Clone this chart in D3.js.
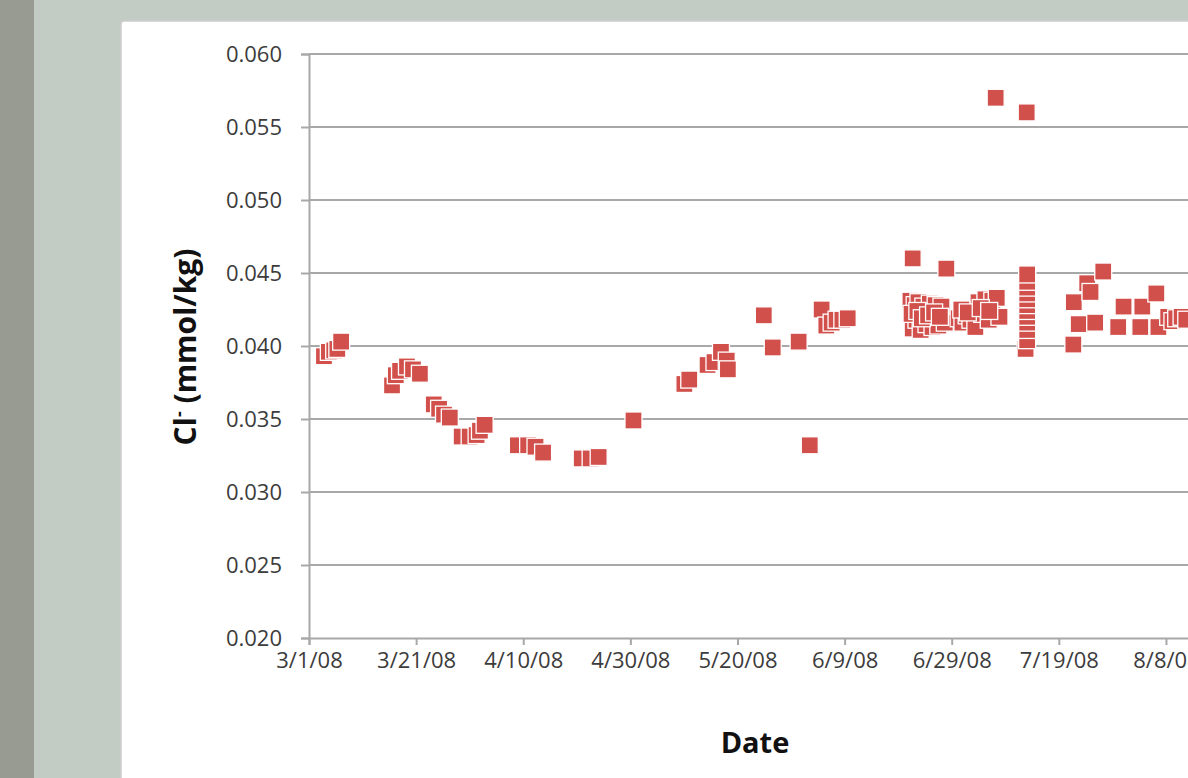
<!DOCTYPE html>
<html>
<head>
<meta charset="utf-8">
<script src="https://cdn.jsdelivr.net/npm/d3@7"></script>
<style>
  body { margin: 0; background: #c3ccc4; overflow: hidden; }
  svg { display: block; }
</style>
</head>
<body>
<svg id="chart" width="1188" height="778"></svg>
<script>
// sample dates (local time, "YYYY-MM-DD HH") and chloride values
var sampleDates = [
  "2008-03-03 19","2008-03-04 17","2008-03-05 17","2008-03-06 07","2008-03-07 00",
  "2008-03-16 12","2008-03-17 05","2008-03-18 00","2008-03-19 07","2008-03-20 10","2008-03-21 17",
  "2008-03-24 07","2008-03-25 07","2008-03-26 05","2008-03-27 07",
  "2008-03-29 12","2008-03-31 00","2008-04-01 07","2008-04-01 22","2008-04-02 19",
  "2008-04-09 00","2008-04-10 22","2008-04-12 07","2008-04-13 17",
  "2008-04-20 22","2008-04-22 14","2008-04-24 02",
  "2008-04-30 14",
  "2008-05-10 02","2008-05-11 00","2008-05-14 10","2008-05-15 17","2008-05-16 22","2008-05-18 00","2008-05-18 05",
  "2008-05-24 22","2008-05-26 14","2008-05-31 10","2008-06-02 12","2008-06-04 17",
  "2008-06-05 14","2008-06-06 14","2008-06-07 12","2008-06-08 14","2008-06-09 14",
  "2008-06-21 17",
  "2008-06-21 07","2008-06-21 17","2008-06-22 02","2008-06-22 10","2008-06-22 19","2008-06-23 05","2008-06-23 17",
  "2008-06-24 07","2008-06-24 22","2008-06-25 10","2008-06-26 00","2008-06-26 12","2008-06-27 02","2008-06-27 17",
  "2008-06-21 12","2008-06-22 14","2008-06-23 10","2008-06-24 14","2008-06-25 17","2008-06-26 19",
  "2008-06-28 00",
  "2008-06-30 07","2008-07-01 00","2008-07-01 19","2008-07-02 12","2008-07-03 10","2008-07-04 00","2008-07-04 17",
  "2008-07-05 07","2008-07-05 22","2008-07-06 14","2008-07-07 05","2008-07-07 10","2008-07-07 22",
  "2008-06-30 19","2008-07-02 00","2008-07-04 10","2008-07-06 00",
  "2008-07-13 00","2008-07-12 19",
  "2008-07-13 02","2008-07-13 02","2008-07-13 02","2008-07-13 02","2008-07-13 02","2008-07-13 02",
  "2008-07-13 02","2008-07-13 02","2008-07-13 02","2008-07-13 02","2008-07-13 02",
  "2008-07-21 17","2008-07-21 19","2008-07-22 17","2008-07-24 07","2008-07-24 22","2008-07-25 19","2008-07-27 07",
  "2008-07-30 02","2008-07-31 02","2008-08-03 05","2008-08-03 14","2008-08-06 05","2008-08-06 14",
  "2008-08-08 10","2008-08-09 05","2008-08-09 22","2008-08-10 22","2008-08-11 19"
];
var chloride = [
  0.0393,0.0396,0.0397,0.0398,0.0403,
  0.0373,0.0380,0.0383,0.0386,0.0384,0.0381,
  0.0360,0.0357,0.0353,0.0351,
  0.0338,0.0338,0.0339,0.0342,0.0346,
  0.0332,0.0332,0.0331,0.0327,
  0.0323,0.0323,0.0324,
  0.0349,
  0.0374,0.0377,0.0387,0.0389,0.0396,0.0390,0.0384,
  0.0421,0.0399,0.0403,0.0332,0.0425,
  0.0414,0.0416,0.0418,0.0418,0.0419,
  0.0460,
  0.0431,0.0412,0.0428,0.0418,0.0430,0.0411,0.0427,
  0.0415,0.0429,0.0413,0.0428,0.0414,0.0427,0.0416,
  0.0422,0.0424,0.0419,0.0421,0.0423,0.0420,
  0.0453,
  0.0419,0.0416,0.0421,0.0418,0.0413,0.0430,0.0422,
  0.0432,0.0418,0.0431,0.0570,0.0433,0.0420,
  0.0425,0.0423,0.0426,0.0424,
  0.0560,0.0398,
  0.0404,0.0411,0.0416,0.0420,0.0424,0.0428,
  0.0432,0.0436,0.0440,0.0444,0.0449,
  0.0401,0.0430,0.0415,0.0443,0.0437,0.0416,0.0451,
  0.0413,0.0427,0.0413,0.0427,0.0436,0.0413,
  0.0420,0.0417,0.0419,0.0420,0.0418
];
var xTickLabels = ["3/1/08","3/21/08","4/10/08","4/30/08","5/20/08","6/9/08","6/29/08","7/19/08","8/8/08"];
var yTicks = [0.020,0.025,0.030,0.035,0.040,0.045,0.050,0.055,0.060];

var parseSample = d3.timeParse("%Y-%m-%d %H");
var parseTick = d3.timeParse("%m/%d/%y");
var fmtTick = d3.timeFormat("%-m/%-d/%y");

var svg = d3.select('#chart');

// left dark strip of the slide
svg.append('rect').attr('x', 0).attr('y', 0).attr('width', 34).attr('height', 778).attr('fill', '#979b91');
// chart frame
svg.append('rect').attr('x', 121).attr('y', 21).attr('width', 1200).attr('height', 900).attr('rx', 3)
  .attr('fill', '#fff').attr('stroke', '#cdcdcd').attr('stroke-width', 1.5);

var x0 = 309, pxPerDay = 5.356;
var xDomainStart = parseTick("3/1/08");
var xDomainEnd = parseTick("9/17/08");
var x = d3.scaleTime().domain([xDomainStart, xDomainEnd])
  .range([x0, x0 + pxPerDay * d3.timeDay.count(xDomainStart, xDomainEnd)]);
var y = d3.scaleLinear().domain([0.020, 0.060]).range([638, 54]);

// gridlines
svg.append('g').selectAll('line').data(yTicks.slice(1)).enter().append('line')
  .attr('x1', x0).attr('x2', 1400)
  .attr('y1', function(d){ return y(d); }).attr('y2', function(d){ return y(d); })
  .attr('stroke', '#a8a8a8').attr('stroke-width', 2);

// y axis
var yAxis = svg.append('g').attr('transform', 'translate(' + x0 + ',0)')
  .call(d3.axisLeft(y).tickValues(yTicks).tickFormat(d3.format('.3f')).tickSize(8).tickPadding(19));
// x axis
var xAxis = svg.append('g').attr('transform', 'translate(0,638)')
  .call(d3.axisBottom(x).tickValues(xTickLabels.map(parseTick)).tickFormat(fmtTick).tickSize(7).tickPadding(7));

[yAxis, xAxis].forEach(function(a) {
  a.select('.domain').attr('stroke', '#a8a8a8').attr('stroke-width', 2);
  a.selectAll('.tick line').attr('stroke', '#a8a8a8').attr('stroke-width', 2);
  a.selectAll('.tick text').attr('fill', '#3c3c3c')
    .style('font-family', '"Open Sans", sans-serif').style('font-size', '22px');
});

// points
var pts = sampleDates.map(function(s, i){ return { t: parseSample(s), v: chloride[i] }; });
var msize = 17;
svg.append('g').selectAll('rect').data(pts).enter().append('rect')
  .attr('x', function(d){ return x(d.t) - msize / 2; })
  .attr('y', function(d){ return y(d.v) - msize / 2; })
  .attr('width', msize).attr('height', msize)
  .attr('fill', '#d2504c').attr('stroke', '#fff').attr('stroke-width', 1.3);

// axis titles
var yTitle = svg.append('text').attr('transform', 'translate(196,347) rotate(-90)')
  .attr('text-anchor', 'middle').attr('fill', '#111')
  .style('font-family', '"Open Sans", sans-serif').style('font-size', '30px').style('font-weight', 'bold');
yTitle.append('tspan').text('Cl');
yTitle.append('tspan').attr('dy', -11).style('font-size', '18px').text('-');
yTitle.append('tspan').attr('dy', 11).text(' (mmol/kg)');

svg.append('text').attr('x', 755).attr('y', 753).attr('text-anchor', 'middle').attr('fill', '#111')
  .style('font-family', '"Open Sans", sans-serif').style('font-size', '29px').style('font-weight', 'bold')
  .text('Date');
</script>
</body>
</html>
